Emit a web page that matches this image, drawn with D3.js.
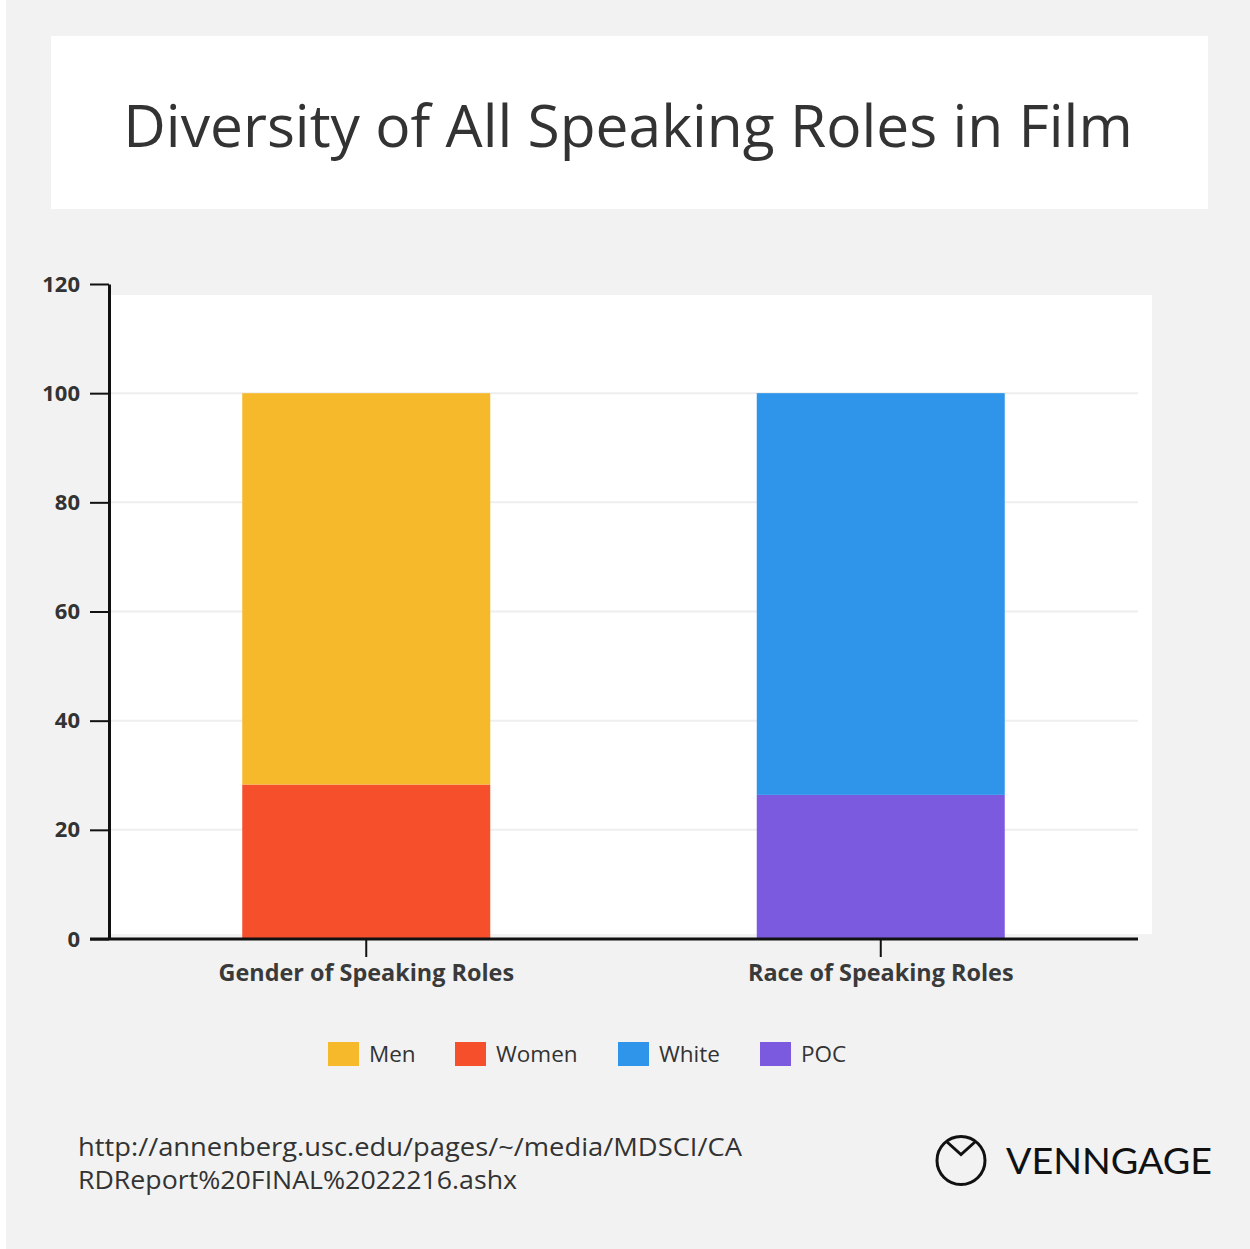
<!DOCTYPE html>
<html>
<head>
<meta charset="utf-8">
<script src="https://cdn.jsdelivr.net/npm/d3@7"></script>
<style>
  html, body { margin: 0; padding: 0; background: #f2f2f2; }
  svg { display: block; }
</style>
</head>
<body>
<svg id="chart" width="1250" height="1249"></svg>
<script>
const categories = ["Gender of Speaking Roles", "Race of Speaking Roles"];
const seriesNames = ["Men", "Women", "White", "POC"];
const seriesColors = ["#F6B92B", "#F64F2B", "#2E95EA", "#7B5AE0"];
// bottom segment first, then top segment, per category
const bottomSeries = ["Women", "POC"];
const bottomValues = [28.3, 26.4];
const topSeries = ["Men", "White"];
const topValues = [71.7, 73.6];
const yTicks = [0, 20, 40, 60, 80, 100, 120];
const titleText = "Diversity of All Speaking Roles in Film";
const sourceLines = ["http://annenberg.usc.edu/pages/~/media/MDSCI/CA", "RDReport%20FINAL%2022216.ashx"];

const svg = d3.select("#chart");
const font = "'Open Sans', 'Noto Sans', sans-serif";
const color = d3.scaleOrdinal().domain(seriesNames).range(seriesColors);

// page background + left white strip
svg.append("rect").attr("x", 0).attr("y", 0).attr("width", 1250).attr("height", 1249).attr("fill", "#f2f2f2");
svg.append("rect").attr("x", 0).attr("y", 0).attr("width", 6).attr("height", 1249).attr("fill", "#ffffff");

// title box
svg.append("rect").attr("x", 51).attr("y", 36).attr("width", 1157).attr("height", 173).attr("fill", "#ffffff");
svg.append("text").attr("x", 628).attr("y", 147).attr("text-anchor", "middle")
  .attr("font-family", font).attr("font-size", 58.7).attr("fill", "#333333")
  .text(titleText);

// plot background
svg.append("rect").attr("x", 110).attr("y", 295).attr("width", 1042).attr("height", 639).attr("fill", "#ffffff");

const x = d3.scaleBand().domain(categories).range([109, 1138]).paddingInner(0.518).paddingOuter(0.259);
const y = d3.scaleLinear().domain([0, 120]).range([939, 284]);

// gridlines
svg.append("g").selectAll("line").data(yTicks.filter(t => t > 0 && t < 120)).join("line")
  .attr("x1", 110).attr("x2", 1138)
  .attr("y1", d => y(d)).attr("y2", d => y(d))
  .attr("stroke", "#eeeeee").attr("stroke-width", 2);

// bars
const rows = categories.map((c, i) => ({
  cat: c,
  segs: [
    { name: bottomSeries[i], y0: 0, y1: bottomValues[i] },
    { name: topSeries[i], y0: bottomValues[i], y1: bottomValues[i] + topValues[i] }
  ]
}));
const barG = svg.append("g");
rows.forEach(r => {
  barG.selectAll(null).data(r.segs).join("rect")
    .attr("x", x(r.cat)).attr("width", x.bandwidth())
    .attr("y", d => y(d.y1)).attr("height", d => y(d.y0) - y(d.y1))
    .attr("fill", d => color(d.name));
});

// y axis
const yAxis = svg.append("g").attr("transform", "translate(109,0)")
  .call(d3.axisLeft(y).tickValues(yTicks).tickSize(19).tickSizeOuter(0).tickPadding(10));
yAxis.select(".domain").attr("stroke", "#111").attr("stroke-width", 3);
yAxis.selectAll(".tick line").attr("stroke", "#111").attr("stroke-width", 2);
yAxis.selectAll(".tick text").attr("font-family", font).attr("font-weight", 700)
  .attr("font-size", 22).attr("fill", "#333333");

// x axis
const xAxis = svg.append("g").attr("transform", "translate(0,939)")
  .call(d3.axisBottom(x).tickSize(18).tickSizeOuter(0));
xAxis.select(".domain").attr("d", "M90,0H1138").attr("stroke", "#111").attr("stroke-width", 3);
xAxis.selectAll(".tick line").attr("stroke", "#111").attr("stroke-width", 2);
xAxis.selectAll(".tick text").attr("font-family", font).attr("font-weight", 700)
  .attr("font-size", 23.4).attr("fill", "#3a3a3a").attr("y", 42).attr("dy", 0);

// legend
const legendX = [328, 455, 618, 760];
const lg = svg.append("g").selectAll("g").data(seriesNames).join("g")
  .attr("transform", (d, i) => `translate(${legendX[i]},1042)`);
lg.append("rect").attr("width", 31).attr("height", 24).attr("fill", d => color(d));
lg.append("text").attr("x", 41).attr("y", 20).attr("font-family", font)
  .attr("font-size", 22.5).attr("fill", "#333333").text(d => d);

// source text
const sourceWidths = [664, 439];
svg.append("g").selectAll("text").data(sourceLines).join("text")
  .attr("x", 78).attr("y", (d, i) => 1156 + i * 33)
  .attr("font-family", font).attr("font-size", 25).attr("fill", "#333333")
  .attr("textLength", (d, i) => sourceWidths[i]).attr("lengthAdjust", "spacingAndGlyphs")
  .text(d => d);

// Venngage logo
const logo = svg.append("g");
logo.append("circle").attr("cx", 961).attr("cy", 1160.5).attr("r", 24)
  .attr("fill", "none").attr("stroke", "#111").attr("stroke-width", 3);
logo.append("path").attr("d", "M946.5,1141.5L961,1154.5L975.5,1141.5")
  .attr("fill", "none").attr("stroke", "#111").attr("stroke-width", 3);
logo.append("text").attr("x", 1006).attr("y", 1173.5)
  .attr("font-family", "Lato, 'Open Sans', sans-serif").attr("font-size", 37)
  .attr("fill", "#111").attr("textLength", 206).attr("lengthAdjust", "spacingAndGlyphs")
  .text("VENNGAGE");
</script>
</body>
</html>
